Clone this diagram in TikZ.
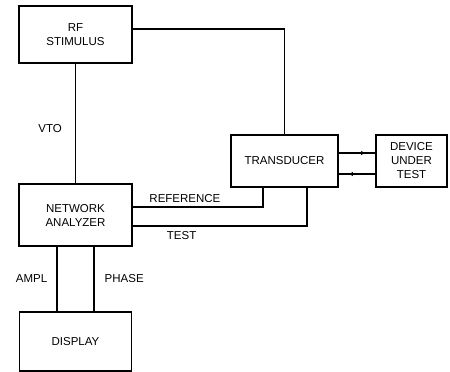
\documentclass[tikz,border=0pt]{standalone}
\usepackage{fontspec}
\setmainfont{Liberation Sans}
\usetikzlibrary{arrows.meta,positioning,calc,decorations.markings}

\begin{document}
\begin{tikzpicture}[x=1pt, y=-1pt,
    blk/.style={rectangle, draw=black, line width=1.8pt, inner sep=0pt,
        align=center, font=\fontsize{11.5}{14}\selectfont},
    wire/.style={draw=black, line width=1.4pt},
    lbl/.style={font=\fontsize{11.5}{13}\selectfont, inner sep=1pt},
    % small arrowhead placed near the far end of a wire
    fwd/.style={postaction={decorate}, decoration={markings,
        mark=at position 0.75 with {\arrow{Latex[length=5pt,width=4.5pt]}}}}
]
    \useasboundingbox (0,0) rectangle (450,372);

    % ---- Boxes ----
    \node[blk, minimum width=113pt, minimum height=57pt] (rf)   at (75.5,34.5) {RF\\STIMULUS};
    \node[blk, minimum width=107pt, minimum height=52pt] (tr)   at (284.5,161) {TRANSDUCER};
    \node[blk, minimum width=71pt,  minimum height=52pt] (dut)  at (411.5,161) {DEVICE\\UNDER\\TEST};
    \node[blk, minimum width=113pt, minimum height=62pt] (na)   at (75.5,215)  {NETWORK\\ANALYZER};
    \node[blk, minimum width=112pt, minimum height=59pt] (disp) at (75.5,341.5) {DISPLAY};

    % ---- Connections ----
    \draw[wire] ([yshift=5.5pt]rf.east) -| (tr.north);
    \draw[wire] (rf.south) -- (na.north)
        node[lbl, pos=0.54, left=12pt] {VTO};

    % transducer <-> device under test
    \draw[wire, fwd] ([yshift=8pt]tr.east) -- ([yshift=8pt]dut.west);
    \draw[wire, fwd] ([yshift=-13pt]dut.west) -- ([yshift=-13pt]tr.east);

    % transducer outputs to the analyzer
    \draw[wire] ([xshift=-21.5pt]tr.south) |- ([yshift=8pt]na.east)
        node[lbl, pos=0.80, above=3pt] {REFERENCE};
    \draw[wire] ([xshift=22.5pt]tr.south) |- ([yshift=-11pt]na.east)
        node[lbl, pos=0.86, below=4pt] {TEST};

    % analyzer to display
    \draw[wire] ([xshift=-18.5pt]na.south) -- ([xshift=-18.5pt]disp.north)
        node[lbl, midway, left=8pt] {AMPL};
    \draw[wire] ([xshift=18.5pt]na.south) -- ([xshift=18.5pt]disp.north)
        node[lbl, midway, right=9pt] {PHASE};
\end{tikzpicture}
\end{document}
